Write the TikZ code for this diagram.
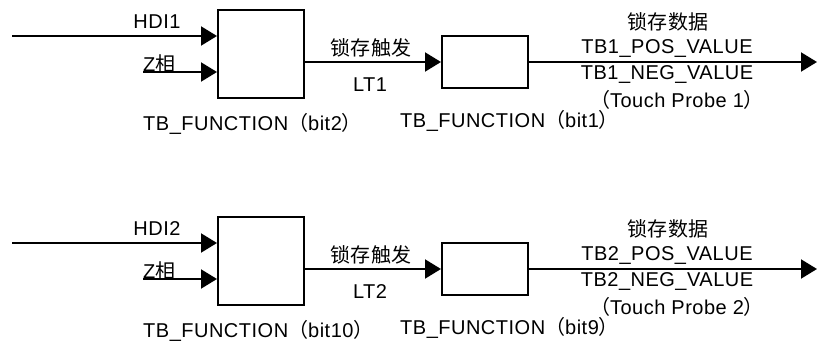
\documentclass[tikz,border=0pt]{standalone}
\usepackage{fontspec}
\setmainfont{Liberation Sans}[LetterSpace=2.5]
\newfontfamily\cjk{Noto Sans CJK SC}[LetterSpace=2.5]
\usetikzlibrary{arrows.meta}
\tikzset{
  blk/.style={draw, line width=2pt, inner sep=0pt},
  arr/.style={line width=2pt, -{Triangle[length=16pt,width=19pt]}},
  lbl/.style={inner sep=0pt, font=\fontsize{20}{22}\selectfont},
}
\begin{document}
\begin{tikzpicture}[x=1pt,y=-1pt]
\useasboundingbox (0,0) rectangle (817,345);
\foreach \r/\dy/\ha/\hb in {1/0/2/1, 2/207/10/9} {
  \begin{scope}[yshift=-\dy pt]
  \node[blk, minimum width=86pt, minimum height=88pt] (ba\r) at (261,54) {};
  \node[blk, minimum width=86pt, minimum height=52pt] (bb\r) at (485,62) {};
  \coordinate (h\r) at (12,36);
  \coordinate (z\r) at (143,72);
  \coordinate (o\r) at (817,62);
  \draw[arr] (h\r) -- (h\r -| ba\r.west);
  \draw[arr] (z\r) -- (z\r -| ba\r.west);
  \draw[arr] (ba\r.east |- bb\r.west) -- (bb\r.west);
  \draw[arr] (bb\r.east) -- (o\r);
  \node[lbl] (hl\r) at (157,22) {HDI\r};
  \node[lbl, anchor=base west] (zl\r) at (143,71) {Z{\cjk 相}};
  \node[lbl] (tr\r) at (371,48) {{\cjk 锁存触发}};
  \node[lbl] (lt\r) at (370,85) {LT\r};
  \node[lbl] (sd\r) at (668,22) {{\cjk 锁存数据}};
  \node[lbl] (pv\r) at (667,49) {TB\r\_POS\_VALUE};
  \node[lbl] (nv\r) at (667,75) {TB\r\_NEG\_VALUE};
  \node[lbl] (tp\r) at (677,100) {{\cjk （}Touch Probe \r{\cjk ）}};
  \node[lbl, anchor=west] (fa\r) at (143,124) {TB\_FUNCTION{\cjk （}bit\ha{\cjk ）}};
  \node[lbl, anchor=west] (fb\r) at (400,121) {TB\_FUNCTION{\cjk （}bit\hb{\cjk ）}};
  \end{scope}
}
\end{tikzpicture}
\end{document}
